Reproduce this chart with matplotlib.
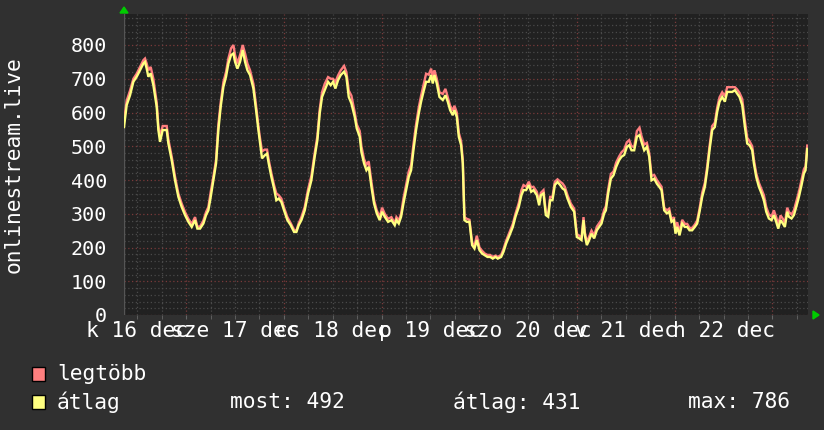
import matplotlib
matplotlib.use("Agg")
import matplotlib.pyplot as plt
from matplotlib.patches import Rectangle, Polygon
from matplotlib.ticker import MultipleLocator, FixedLocator

# ---- data (hours since start of window, ~08:45 on 16 Dec) ----
hours = [
    0.0, 0.66, 1.48, 2.30, 3.12, 3.93, 4.75, 5.16, 5.57, 5.98, 6.55, 7.21, 8.03, 8.44, 8.85, 9.50, 10.49, 10.90, 11.71,
    12.53, 13.35, 14.17, 14.99, 15.81, 16.63, 17.45, 18.02, 18.68, 19.50, 20.15, 20.72, 21.30, 21.95, 22.61, 23.18,
    23.75, 24.41, 25.06, 25.64, 26.29, 26.87, 27.28, 27.85, 28.50, 29.16, 29.73, 30.31, 30.96, 31.78, 32.44, 33.01,
    33.33, 33.90, 34.56, 35.13, 35.54, 36.20, 36.85, 37.42, 38.00, 38.65, 39.31, 40.13, 40.95, 41.77, 42.34, 42.91,
    43.57, 44.39, 45.21, 46.02, 46.84, 47.50, 48.07, 48.64, 49.30, 50.12, 50.77, 51.35, 51.92, 52.58, 53.23, 54.05,
    54.62, 55.20, 55.85, 56.67, 57.16, 57.90, 58.31, 58.96, 59.54, 60.11, 60.77, 61.42, 62.08, 62.81, 63.39, 64.04,
    64.86, 65.68, 66.50, 66.91,
    67.49, 68.06, 68.63, 69.29, 69.94, 70.52, 71.09, 71.74, 72.40, 72.97, 73.55, 74.20, 74.86, 75.43, 75.84, 76.25,
    76.82, 77.48, 78.30, 78.95, 79.52, 80.10, 80.75, 81.16, 81.74, 82.23, 82.80, 83.21, 83.62, 84.19, 84.85, 85.50,
    86.08, 86.65, 87.31, 87.96, 88.62, 89.27, 89.93, 90.58, 91.24, 91.81, 92.63, 93.20, 93.86, 94.68, 95.50, 96.15,
    96.97, 97.62, 98.12, 98.77, 99.43, 100.00, 100.57,
    101.40, 101.97, 102.38, 103.03, 103.61, 104.18, 104.67, 105.24, 105.82, 106.47, 107.13, 107.70, 108.27, 108.93,
    109.75, 110.57, 111.22, 111.80, 112.37, 112.86, 113.19, 113.68, 114.25, 114.83, 115.48, 116.14, 116.71, 117.28,
    117.94, 118.35, 118.92, 119.58, 120.23, 120.89, 121.62, 122.20, 122.85, 123.51, 124.08, 124.65, 125.31, 125.97,
    126.62, 127.11, 127.77, 128.42, 129.00, 129.57, 130.22, 130.88, 131.45, 132.03, 132.68, 133.34, 133.91, 134.48,
    135.05, 135.46, 135.87, 136.44, 137.10, 137.75, 138.33, 138.90, 139.55, 140.21, 140.78, 141.36, 142.01, 142.67,
    143.24, 143.81, 144.47, 145.12, 145.70, 146.27, 146.93, 147.58, 148.15, 148.73, 149.38, 150.04, 150.61, 151.18,
    151.84, 152.50, 153.07, 153.64, 154.30, 154.71, 155.28, 155.93, 156.59, 157.16, 157.74, 158.39, 159.05, 159.62,
    160.19, 160.69, 161.26, 161.83, 162.32, 162.90, 163.31, 163.96, 164.54, 165.11, 165.77, 166.42, 166.99, 167.40,
    167.81,
]

atlag = [
    557, 622, 651, 691, 706, 725, 745, 750, 730, 706, 716, 681, 617, 548, 513, 548, 548, 508, 459, 399, 350, 320, 296,
    276, 261, 281, 256, 256, 271, 296, 310, 350, 399, 449, 548, 617, 676, 706, 745, 770, 775, 750, 730, 750, 785, 750,
    725, 711, 671, 607, 548,
    518, 464, 473, 478, 449, 409, 375, 340, 345, 335, 310, 281, 266, 246, 246, 266, 281, 310, 360, 399, 469, 518, 597,
    646, 666, 691, 681, 691, 671, 696, 711, 721, 706, 646, 627, 587, 553, 528, 483, 449, 429, 439, 380, 330, 301, 281,
    306, 291, 276, 281, 266, 281,
    271, 291, 330, 370, 409, 429, 488, 548, 597, 632, 661, 691, 691, 711, 686, 711, 686, 646, 637, 651, 632, 607, 592,
    607, 587, 528, 503, 449, 281, 276, 276, 207, 197, 222, 192, 182, 177, 172, 172, 167, 172, 167, 172, 187, 212, 236,
    261, 291, 320, 355, 370, 370, 385, 365, 370,
    355, 325, 355, 360, 296, 291, 340, 340, 385, 394, 385, 375, 370, 345, 320, 306, 231, 227, 222, 281, 236, 207, 222,
    241, 227, 251, 261, 271, 301, 310, 360, 404, 414, 439, 459, 469, 474, 498, 503, 488, 488, 528, 533, 513, 488, 498,
    469, 399, 404, 389, 380, 370, 310, 301, 306, 276,
    281, 241, 261, 236, 271, 261, 261, 251, 251, 261, 271, 306, 350, 380, 429, 488, 548, 557, 602, 632, 646, 632, 661,
    661, 661, 666, 656, 646, 622, 557, 508, 503, 488, 449, 409, 380, 360, 340, 306, 286, 281, 296, 276, 256, 281, 271,
    261, 306, 291, 286, 296, 320, 350, 385, 419, 429, 492,
]

legtobb = [
    575, 635, 665, 700, 715, 735, 755, 760, 745, 725, 735, 700, 630, 560, 530, 560, 560, 520, 470, 410, 360, 330, 305,
    285, 270, 290, 262, 262, 280, 305, 320, 365, 410, 460, 565, 630, 690, 720, 760, 790, 800, 770, 745, 770, 800, 775,
    745, 725, 685, 620, 560,
    530, 485, 490, 490, 460, 420, 385, 360, 355, 345, 318, 290, 272, 252, 250, 272, 290, 320, 372, 412, 480, 530, 610,
    660, 685, 705, 700, 700, 690, 710, 725, 738, 720, 665, 650, 600, 565, 545, 500, 462, 445, 455, 395, 340, 310, 290,
    318, 300, 285, 290, 272, 290,
    280, 300, 345, 385, 425, 445, 505, 565, 615, 650, 680, 715, 712, 730, 705, 725, 700, 660, 655, 670, 645, 620, 605,
    620, 600, 540, 515, 460, 290, 285, 282, 215, 205, 235, 200, 190, 182, 178, 178, 172, 176, 172, 178, 195, 220, 245,
    270, 300, 332, 370, 385, 380, 395, 378, 380,
    365, 335, 362, 370, 305, 300, 350, 350, 395, 402, 395, 390, 380, 355, 330, 315, 240, 235, 228, 290, 245, 215, 232,
    250, 236, 262, 272, 282, 312, 322, 372, 418, 425, 452, 470, 482, 490, 512, 518, 500, 498, 545, 555, 530, 505, 510,
    480, 412, 415, 400, 390, 380, 318, 310, 315, 282,
    290, 250, 275, 245, 282, 270, 270, 258, 258, 268, 280, 315, 362, 392, 440, 500, 560, 570, 615, 645, 660, 648, 675,
    675, 675, 675, 668, 658, 640, 575, 525, 515, 500, 460, 420, 392, 372, 355, 320, 298, 292, 310, 290, 268, 295, 285,
    272, 318, 305, 298, 310, 335, 365, 400, 432, 440, 502,
]

day_labels = ["k 16 dec", "sze 17 dec", "cs 18 dec", "p 19 dec", "szo 20 dec", "v 21 dec", "h 22 dec"]
label_hours = [3.25, 27.25, 51.25, 75.25, 99.25, 123.25, 147.25]     # noon of each day
midnight_hours = [15.25, 39.25, 63.25, 87.25, 111.25, 135.25, 159.25]
y_ticks = [0, 100, 200, 300, 400, 500, 600, 700, 800]
legend_names = ["legtöbb", "átlag"]
stats = ["most: 492", "átlag: 431", "max: 786"]
ylabel = "onlinestream.live"

# ---- styling ----
FIG_BG = "#303030"
AX_BG = "#212121"
RED = "#ff7f7f"
YEL = "#ffff80"
FONT = "DejaVu Sans Mono"
FS = 14.5
FS2 = 15.3

W, H = 824, 430
fig = plt.figure(figsize=(W / 100, H / 100), dpi=100, facecolor=FIG_BG)
L, R, T, B = 124, 808, 14, 315
ax = fig.add_axes([L / W, 1 - B / H, (R - L) / W, (B - T) / H], facecolor=AX_BG)

ax.set_xlim(0, 168)
ax.set_ylim(0, (B - T) / 0.3375)

# grid
ax.yaxis.set_major_locator(FixedLocator(y_ticks))
ax.yaxis.set_minor_locator(MultipleLocator(20))
six_h = [h for h in [3.25 + 6 * k for k in range(28)] if 0 < h < 168]
ax.xaxis.set_minor_locator(FixedLocator(six_h))
ax.xaxis.set_major_locator(FixedLocator(midnight_hours))
ax.grid(which="minor", color="#4a4a4a", linestyle=(0, (1, 2)), linewidth=0.9)
ax.grid(which="major", color="#7a3a3a", linestyle=(0, (1, 2)), linewidth=0.9)
ax.set_axisbelow(True)

for s in ax.spines.values():
    s.set_visible(False)
ax.axvline(0, color="#555555", lw=1)

ax.tick_params(axis="x", which="both", length=3, color="#666666", labelbottom=False)
ax.tick_params(axis="y", which="both", length=0, labelsize=FS, labelcolor="white", pad=12)
ax.set_yticklabels([str(v) for v in y_ticks], fontfamily=FONT)

# data lines
ax.plot(hours, legtobb, color=RED, lw=1.7, zorder=3, solid_joinstyle="miter")
ax.plot(hours, atlag, color=YEL, lw=1.7, zorder=4, solid_joinstyle="miter")

# x labels (centered at noon)
for h, lab in zip(label_hours, day_labels):
    ax.text(h, -0.052, lab, transform=ax.get_xaxis_transform(), ha="center", va="center",
            color="white", fontsize=FS2, fontfamily=FONT, clip_on=False)

# y label
fig.text(14 / W, 1 - 165 / H, ylabel, rotation=90, ha="center", va="center",
         color="white", fontsize=FS2, fontfamily=FONT)

# green arrows
fig.add_artist(Polygon([[(L - 4) / W, 1 - 13 / H], [(L + 4) / W, 1 - 13 / H], [L / W, 1 - 7 / H]],
                       closed=True, color="#00cc00", transform=fig.transFigure))
fig.add_artist(Polygon([[813 / W, 1 - 311 / H], [813 / W, 1 - 319 / H], [819 / W, 1 - 315 / H]],
                       closed=True, color="#00cc00", transform=fig.transFigure))

# legend
for i, (name, col) in enumerate(zip(legend_names, [RED, YEL])):
    yc = 374 + 28 * i
    fig.add_artist(Rectangle((32 / W, 1 - (yc + 7) / H), 13 / W, 14 / H, facecolor=col,
                             edgecolor="black", lw=1, transform=fig.transFigure))
    fig.text(57 / W, 1 - yc / H, name, ha="left", va="center", color="white",
             fontsize=FS2, fontfamily=FONT)

for x, s in zip([230, 453, 688], stats):
    fig.text(x / W, 1 - 402 / H, s, ha="left", va="center", color="white",
             fontsize=FS2, fontfamily=FONT)

fig.savefig("out.png", dpi=100, facecolor=FIG_BG)
